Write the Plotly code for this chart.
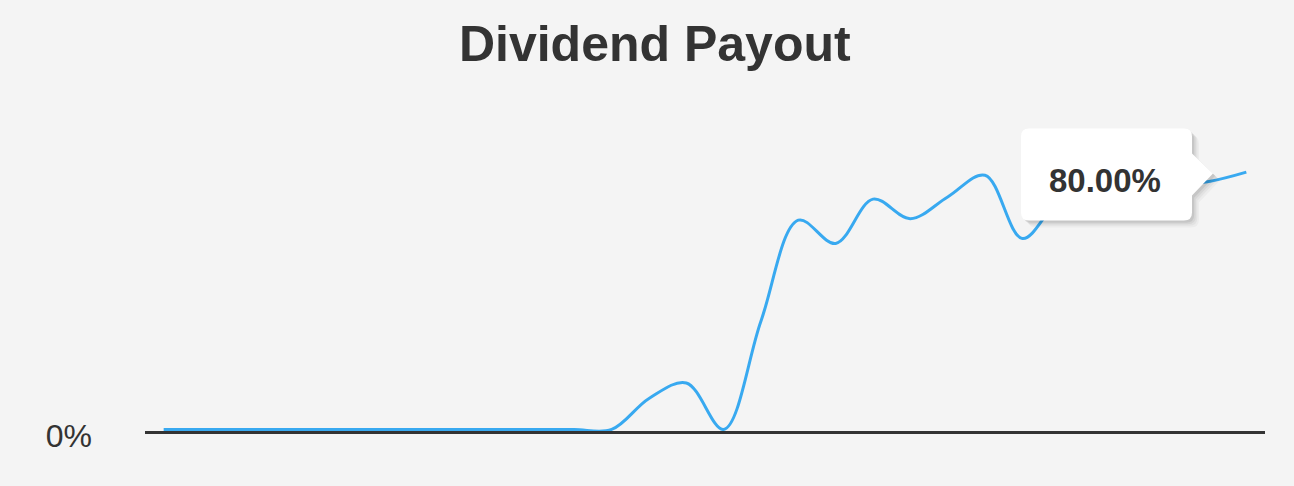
import plotly.graph_objects as go

# ---- data ----
periods = list(range(30))
payout_pct = [0, 0, 0, 0, 0, 0, 0, 0, 0, 0, 0, 0,
              0, 10, 15, 0, 35, 67.5, 60, 74.3, 68, 75, 82, 61.6,
              74, 78, 76, 79, 80, 83]
y_tick_vals = [0]
y_tick_text = ["0%"]
title_text = "Dividend Payout"
hover_index = 28
hover_label = f"{payout_pct[hover_index]:.2f}%"

BG = "#f4f4f4"
LINE = "#38a9f0"
DARK = "#333333"

fig = go.Figure()
fig.add_trace(go.Scatter(
    x=periods, y=payout_pct, mode="lines",
    line=dict(color=LINE, width=3, shape="spline", smoothing=1.0),
    hoverinfo="skip", showlegend=False,
))

# tooltip (box with pointer) anchored at the hovered data point, pixel-sized
def box_path(dx=0, dy=0):
    L, R, T, B, r = -188 + dx, -17 + dx, 53 + dy, -39 + dy, 8
    return (f"M{L + r},{T} L{R - r},{T} Q{R},{T} {R},{T - r} "
            f"L{R},{28 + dy} L{R + 21},{8 + dy} L{R},{-14 + dy} "
            f"L{R},{B + r} Q{R},{B} {R - r},{B} L{L + r},{B} "
            f"Q{L},{B} {L},{B + r} L{L},{T - r} Q{L},{T} {L + r},{T} Z")

shapes = []
for i, a in enumerate([0.03, 0.04, 0.05, 0.07]):
    off = 7 - i * 1.6
    shapes.append(dict(
        type="path", xref="x", yref="y", xsizemode="pixel", ysizemode="pixel",
        xanchor=periods[hover_index], yanchor=payout_pct[hover_index],
        path=box_path(off, -off), fillcolor=f"rgba(0,0,0,{a})",
        line=dict(width=0), layer="above"))
shapes.append(dict(
    type="path", xref="x", yref="y", xsizemode="pixel", ysizemode="pixel",
    xanchor=periods[hover_index], yanchor=payout_pct[hover_index],
    path=box_path(), fillcolor="#ffffff", line=dict(width=0), layer="above"))

fig.add_annotation(
    x=periods[hover_index], y=payout_pct[hover_index], xref="x", yref="y",
    text=f"<b>{hover_label}</b>", showarrow=False, xshift=-104, yshift=1,
    font=dict(family="Liberation Sans, Arial, sans-serif", size=33, color=DARK),
)

fig.update_layout(
    width=1294, height=486,
    paper_bgcolor=BG, plot_bgcolor=BG,
    margin=dict(l=145, r=29, t=90, b=55),
    title=dict(text=f"<b>{title_text}</b>", x=0.506, xanchor="center",
               y=1 - 43 / 486, yanchor="middle",
               font=dict(family="Liberation Sans, Arial, sans-serif", size=50, color=DARK)),
    shapes=shapes,
    xaxis=dict(range=[-0.5, 29.5], showgrid=False, zeroline=False,
               showticklabels=False, ticks="", showline=True,
               linecolor=DARK, linewidth=3),
    yaxis=dict(range=[-0.5, 109.5], showgrid=False, zeroline=False,
               showline=False, tickvals=y_tick_vals, ticktext=y_tick_text,
               ticklabelstandoff=52, ticklabelshift=6,
               tickfont=dict(family="Liberation Sans, Arial, sans-serif", size=32, color=DARK)),
    showlegend=False,
)

fig.write_html(
    "out.html",
    config={"displayModeBar": False},
    post_script="document.body.style.margin='0';document.body.style.overflow='hidden';"
                "document.body.style.background='#f4f4f4';",
)
